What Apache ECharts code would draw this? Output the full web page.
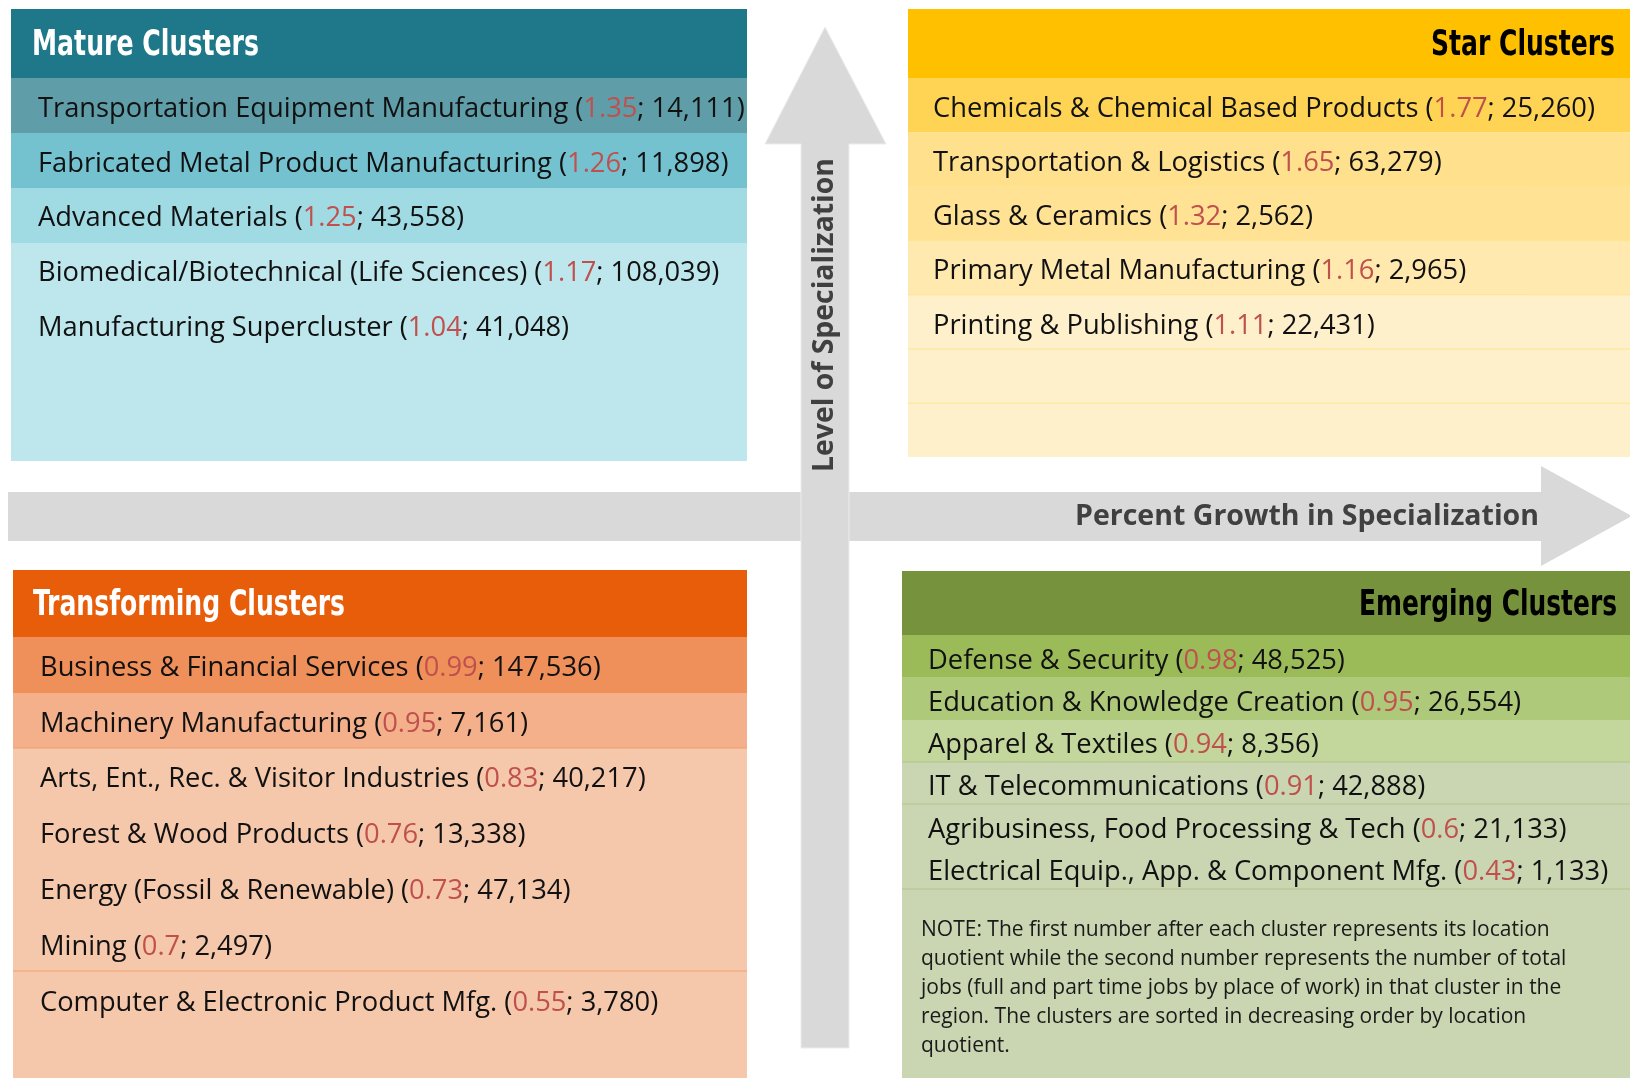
<!DOCTYPE html>
<html lang="en">
<head>
  <meta charset="UTF-8">
  <script src="https://cdn.jsdelivr.net/npm/echarts@6/dist/echarts.min.js"></script>
  <title>Cluster quadrants</title>
  <style>
    html, body { margin: 0; padding: 0; background: #fff; }
    #main { width: 1630px; height: 1078px; }
  </style>
</head>
<body>
  <div id="main"></div>
  <script>
    // cluster name, location quotient, total jobs
    let matureNames = ['Transportation Equipment Manufacturing', 'Fabricated Metal Product Manufacturing', 'Advanced Materials', 'Biomedical/Biotechnical (Life Sciences)', 'Manufacturing Supercluster']
    let matureLQ = [1.35, 1.26, 1.25, 1.17, 1.04]
    let matureJobs = [14111, 11898, 43558, 108039, 41048]

    let starNames = ['Chemicals & Chemical Based Products', 'Transportation & Logistics', 'Glass & Ceramics', 'Primary Metal Manufacturing', 'Printing & Publishing']
    let starLQ = [1.77, 1.65, 1.32, 1.16, 1.11]
    let starJobs = [25260, 63279, 2562, 2965, 22431]

    let transNames = ['Business & Financial Services', 'Machinery Manufacturing', 'Arts, Ent., Rec. & Visitor Industries', 'Forest & Wood Products', 'Energy (Fossil & Renewable)', 'Mining', 'Computer & Electronic Product Mfg.']
    let transLQ = [0.99, 0.95, 0.83, 0.76, 0.73, 0.7, 0.55]
    let transJobs = [147536, 7161, 40217, 13338, 47134, 2497, 3780]

    let emergNames = ['Defense & Security', 'Education & Knowledge Creation', 'Apparel & Textiles', 'IT & Telecommunications', 'Agribusiness, Food Processing & Tech', 'Electrical Equip., App. & Component Mfg.']
    let emergLQ = [0.98, 0.95, 0.94, 0.91, 0.6, 0.43]
    let emergJobs = [48525, 26554, 8356, 42888, 21133, 1133]

    let note = 'NOTE: The first number after each cluster represents its location\nquotient while the second number represents the number of total\njobs (full and part time jobs by place of work) in that cluster in the\nregion. The clusters are sorted in decreasing order by location\nquotient.'

    let chart = echarts.init(document.getElementById('main'))
    let g = []
    let itemFont = '"Open Sans", sans-serif'
    let headFont = 'bold 35px "DejaVu Sans Condensed", "Open Sans", sans-serif'
    let axisFont = 'bold 29px "Open Sans", sans-serif'
    let fmt = n => n.toLocaleString('en-US')

    // squeeze / stretch a text to a wanted width
    let mctx = document.createElement('canvas').getContext('2d')
    let fit = (text, font, w) => { mctx.font = font; return w / mctx.measureText(text).width }

    let rect = (x, y, w, h, fill) => g.push({ type: 'rect', silent: true, shape: { x: x, y: y, width: w, height: h }, style: { fill: fill } })
    let hline = (x1, x2, y, stroke) => g.push({ type: 'line', silent: true, shape: { x1: x1, y1: y, x2: x2, y2: y }, style: { stroke: stroke, lineWidth: 1 } })
    let head = (text, x, y, w, color, align) => g.push({
      type: 'text', x: x, y: y, scaleX: fit(text, headFont, w), silent: true,
      style: { text: text, align: align, verticalAlign: 'middle', fill: color, font: headFont }
    })
    let item = (name, lq, jobs, x, y) => g.push({
      type: 'text', x: x, y: y, silent: true,
      style: {
        text: '{n|' + name + ' (}{r|' + lq + '}{n|; ' + fmt(jobs) + ')}',
        verticalAlign: 'middle',
        rich: {
          n: { fontSize: 27.3, fontFamily: itemFont, fill: '#111', color: '#111' },
          r: { fontSize: 27.3, fontFamily: itemFont, fill: '#c0504d', color: '#c0504d' }
        }
      }
    })

    // arrows
    g.push({ type: 'polygon', silent: true, shape: { points: [[8, 492], [1541, 492], [1541, 466], [1632, 516], [1541, 566], [1541, 541], [8, 541]] }, style: { fill: '#d9d9d9' } })
    g.push({ type: 'polygon', silent: true, shape: { points: [[801, 1048], [801, 144], [765, 144], [825, 27], [886, 144], [849, 144], [849, 1048]] }, style: { fill: '#d9d9d9', stroke: '#ececec', lineWidth: 1 } })
    let vLabel = 'Level of Specialization'
    let hLabel = 'Percent Growth in Specialization'
    g.push({ type: 'text', x: 825, y: 315, rotation: Math.PI / 2, scaleX: fit(vLabel, axisFont, 314), silent: true, style: { text: vLabel, align: 'center', verticalAlign: 'middle', fill: '#404040', font: axisFont } })
    g.push({ type: 'text', x: 1539, y: 517, scaleX: fit(hLabel, axisFont, 464), silent: true, style: { text: hLabel, align: 'right', verticalAlign: 'middle', fill: '#404040', font: axisFont } })

    // Mature clusters
    rect(11, 9, 736, 452, '#bde7ec')
    rect(11, 9, 736, 69, '#1f7889')
    rect(11, 78, 736, 55, '#5f9ea9')
    rect(11, 133, 736, 55, '#74c2cf')
    rect(11, 188, 736, 55, '#a0dae3')
    head('Mature Clusters', 32, 46, 227, '#fff', 'left')
    matureNames.forEach((n, i) => item(n, matureLQ[i], matureJobs[i], 38, 109 + i * 54.8))

    // Star clusters
    rect(908, 9, 722, 448, '#fff0cc')
    rect(908, 9, 722, 69, '#ffc000')
    let starRows = ['#ffd454', '#ffe08c', '#ffe294', '#ffe9ae']
    starRows.forEach((c, i) => rect(908, 78 + i * 54.2, 722, 54.2, c))
    for (let i = 2; i < 7; i++) hline(908, 1630, 78 + i * 54.2, '#ffe48f')
    head('Star Clusters', 1615, 46, 184, '#000', 'right')
    starNames.forEach((n, i) => item(n, starLQ[i], starJobs[i], 933, 109 + i * 54.2))

    // Transforming clusters
    rect(13, 570, 734, 508, '#f5c7ab')
    rect(13, 570, 734, 67, '#e75d09')
    rect(13, 637, 734, 56, '#ef8f59')
    rect(13, 693, 734, 55, '#f4b08a')
    hline(13, 747, 748, '#f0a070')
    hline(13, 747, 971, '#f0a070')
    head('Transforming Clusters', 33, 606, 312, '#fff', 'left')
    transNames.forEach((n, i) => item(n, transLQ[i], transJobs[i], 40, 668 + i * 55.8))

    // Emerging clusters
    rect(902, 571, 728, 507, '#cad5b2')
    rect(902, 571, 728, 64, '#76923c')
    rect(902, 635, 728, 42, '#9bbb59')
    rect(902, 677, 728, 43, '#afc97a')
    rect(902, 720, 728, 42, '#c3d69b')
    hline(902, 1630, 762, '#b3c38e')
    hline(902, 1630, 804, '#b3c38e')
    hline(902, 1630, 889, '#b3c38e')
    head('Emerging Clusters', 1617, 606, 258, '#000', 'right')
    emergNames.forEach((n, i) => item(n, emergLQ[i], emergJobs[i], 928, 661 + i * 42.2))
    g.push({ type: 'text', x: 921, y: 916, silent: true, style: { text: note, verticalAlign: 'top', lineHeight: 29, fill: '#1a1a1a', font: '21px "Open Sans", sans-serif' } })

    chart.setOption({ backgroundColor: '#fff', animation: false, graphic: g })
  </script>
</body>
</html>
